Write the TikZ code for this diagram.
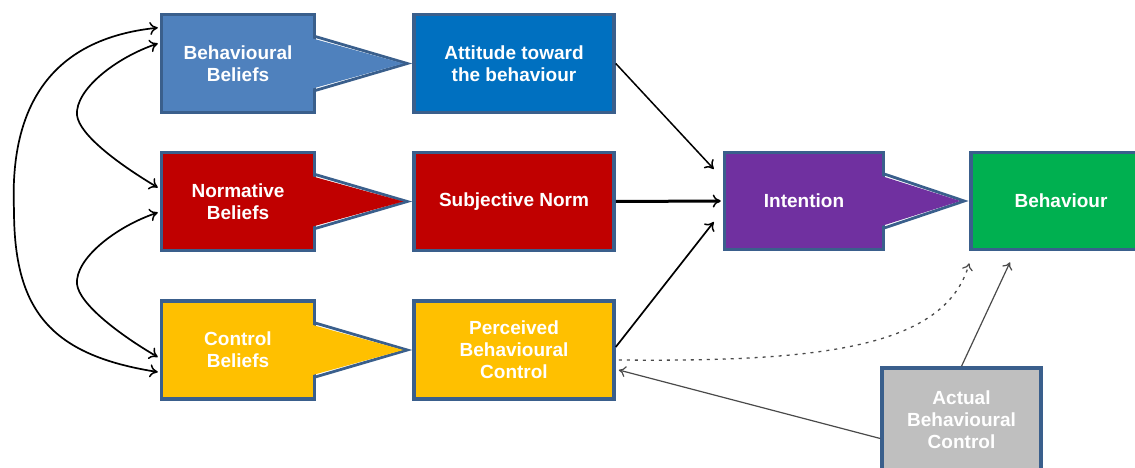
\documentclass[tikz,border=0pt]{standalone}
\usepackage{fontspec}
\setmainfont{Liberation Sans}
\usetikzlibrary{calc,arrows.meta}
\definecolor{bordc}{HTML}{3A5F8C}
\definecolor{cbb}{HTML}{4F81BD}
\definecolor{catt}{HTML}{0070C0}
\definecolor{cred}{HTML}{C00000}
\definecolor{cyel}{HTML}{FFC000}
\definecolor{cpur}{HTML}{7030A0}
\definecolor{cgrn}{HTML}{00B050}
\definecolor{cgry}{HTML}{BFBFBF}
\definecolor{lgry}{HTML}{4A4A4A}
\tikzset{
  box/.style={draw=bordc, line width=3.5pt, text=white, align=center,
    font=\fontsize{19}{22}\selectfont\bfseries, inner sep=0pt},
  smallbox/.style={box, minimum width=153pt, minimum height=98pt},
  widebox/.style={box, minimum width=200pt, minimum height=98pt},
  midbox/.style={box, minimum width=159pt, minimum height=97pt},
  tip/.style={-{To[length=8pt,width=13pt,line width=1.5pt]}},
  dtip/.style={{To[length=8pt,width=13pt,line width=1.5pt]}-{To[length=8pt,width=13pt,line width=1.5pt]}},
  blk/.style={draw=black, line width=1.7pt},
  gryline/.style={draw=lgry, line width=1.2pt},
  pointer/.style={draw=bordc, line width=2.8pt, line join=miter}
}
\begin{document}
\begin{tikzpicture}[x=1pt,y=-1pt]
\useasboundingbox (0,0) rectangle (1135,468);
\clip (0,0) rectangle (1135,468);

% boxes
\node[smallbox, fill=cbb] (bb) at (238,63.5) {Behavioural\\Beliefs};
\node[widebox, fill=catt] (att) at (514,63.5) {Attitude toward\\the behaviour};
\node[smallbox, fill=cred] (nb) at (238,201.5) {Normative\\Beliefs};
\node[widebox, fill=cred] (sn) at (514,201.5) {Subjective Norm};
\node[smallbox, fill=cyel] (cb) at (238,350) {Control\\Beliefs};
\node[widebox, fill=cyel] (pbc) at (514,350) {Perceived\\Behavioural\\Control};
\node[midbox, fill=cpur] (int) at (804,201) {Intention};
\node[box, minimum width=180pt, minimum height=97pt, fill=cgrn] (beh) at (1061,201) {Behaviour};
\node[box, minimum width=159pt, minimum height=103pt, fill=cgry] (abc) at (961.5,419.5) {Actual\\Behavioural\\Control};

% pointers
\foreach \a/\b/\c in {bb/att/cbb, nb/sn/cred, cb/pbc/cyel, int/beh/cpur}{
  \coordinate (p1) at ($(\a.east)+(-1,-27)$);
  \coordinate (p2) at ($(\a.east)+(-1,27)$);
  \coordinate (ap) at ($(\b.west)+(-5,0)$);
  \draw[pointer] (p1) -- (ap) -- (p2);
  \fill[\c] ($(p1)+(-4,1.6)$) -- ($(ap)+(-4,0)$) -- ($(p2)+(-4,-1.6)$) -- cycle;
}

% left double arrows
\draw[blk, dtip] ($(bb.north west)+(-2,15)$) .. controls (40,40) and (10,120) .. (14,210)
  .. controls (14,310) and (50,355) .. ($(cb.west)+(-2,22)$);
\draw[blk, dtip] ($(bb.west)+(-2,-20)$) .. controls (115,58) and (75,90) .. (77,115)
  .. controls (79,135) and (120,165) .. ($(nb.west)+(-2,-14)$);
\draw[blk, dtip] ($(nb.west)+(-2,11)$) .. controls (115,227) and (75,259) .. (77,284)
  .. controls (79,304) and (120,335) .. ($(cb.west)+(-2,7)$);

% to intention
\draw[blk, tip, line width=1.5pt] (att.east) -- ($(int.west)+(-9,-32)$);
\draw[blk, tip, line width=3pt] (sn.east) -- ($(int.west)+(-2,0)$);
\draw[blk, tip] ($(pbc.east)+(0,-3)$) -- ($(int.west)+(-9,21)$);

% dotted PBC -> behaviour
\draw[draw=lgry, line width=1.3pt, dash pattern=on 3pt off 5pt,
  -{To[length=7pt,width=11pt,line width=1.2pt]}]
  ($(pbc.east)+(3,10)$) .. controls (820,362) and (945,348) .. ($(beh.south west)+(0,12)$);

% actual control arrows
\draw[gryline, -{To[length=7pt,width=11pt,line width=1.2pt]}] (abc.north) -- ($(beh.south)+(-51,11)$);
\draw[gryline, -{To[length=7pt,width=11pt,line width=1.2pt]}] ($(abc.west)+(0,19)$) -- ($(pbc.east)+(3,20)$);
\end{tikzpicture}
\end{document}
